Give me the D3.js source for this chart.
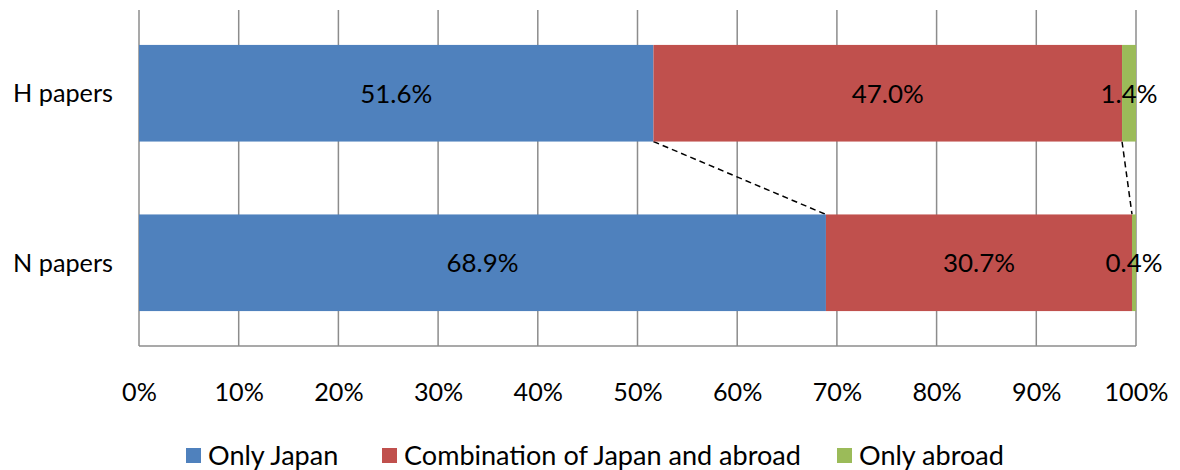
<!DOCTYPE html>
<html><head><meta charset="utf-8">
<script src="https://cdn.jsdelivr.net/npm/d3@7"></script>
<style>body{margin:0;background:#fff}svg text{font-family:Lato,"Open Sans",sans-serif}</style>
</head><body><svg id="c" width="1180" height="470"></svg>
<script>
const categories = ["H papers", "N papers"];
const seriesNames = ["Only Japan", "Combination of Japan and abroad", "Only abroad"];
const onlyJapan = [51.6, 68.9];
const combination = [47.0, 30.7];
const onlyAbroad = [1.4, 0.4];
const tickValues = [0,10,20,30,40,50,60,70,80,90,100];
const colors = ["#4F81BD", "#C0504D", "#9BBB59"];

const svg = d3.select("#c");
const x = d3.scaleLinear().domain([0,100]).range([139,1136]);
const y = d3.scaleBand().domain(categories).range([10,346]).paddingInner(0.43).paddingOuter(0.206);

function fitSize(sample, target){
  const t = svg.append("text").attr("font-size",100).text(sample);
  const w = t.node().getComputedTextLength(); t.remove();
  return 100*target/w;
}
const fsData = fitSize("51.6%", 72);
const fsTick = fitSize("100%", 64);
const fsCat = fitSize("H papers", 100);
const fsLeg = fitSize("Combination of Japan and abroad", 397);

svg.append("g").selectAll("line").data(tickValues).join("line")
  .attr("x1", d=>x(d)).attr("x2", d=>x(d)).attr("y1",10).attr("y2",346)
  .attr("stroke","#8c8c8c").attr("stroke-width",1.5);
svg.append("line").attr("x1",x(0)).attr("x2",x(100)).attr("y1",346).attr("y2",346).attr("stroke","#8c8c8c").attr("stroke-width",1.5);

const series = [onlyJapan, combination, onlyAbroad];
const stacked = categories.map((c,i)=>{
  let acc=0;
  return series.map((s,k)=>{const d={cat:c,k,v:s[i],x0:acc,x1:acc+s[i]};acc+=s[i];return d;});
});

for (let k=0;k<2;k++){
  const a = stacked[0][k].x1, b = stacked[1][k].x1;
  svg.append("line").attr("x1",x(a)).attr("y1",y(categories[0])+y.bandwidth())
    .attr("x2",x(b)).attr("y2",y(categories[1]))
    .attr("stroke","#000").attr("stroke-width",1.5).attr("stroke-dasharray","6,4");
}

stacked.forEach(row=>{
  svg.append("g").selectAll("rect").data(row).join("rect")
    .attr("x",d=>x(d.x0)).attr("width",d=>x(d.x1)-x(d.x0))
    .attr("y",d=>y(d.cat)).attr("height",y.bandwidth())
    .attr("fill",d=>colors[d.k]);
  svg.append("g").selectAll("text").data(row).join("text")
    .attr("x",d=>(x(d.x0)+x(d.x1))/2)
    .attr("text-anchor","middle")
    .attr("y",d=>y(d.cat)+y.bandwidth()/2).attr("dy","0.36em")
    .attr("font-size",fsData).attr("fill","#000")
    .text(d=>d.v.toFixed(1)+"%");
});

const xAxis = d3.axisBottom(x).tickValues(tickValues).tickFormat(d=>d+"%").tickSize(0).tickPadding(0);
const ax = svg.append("g").attr("transform","translate(0,392)").call(xAxis);
ax.select(".domain").remove();
ax.selectAll("text").attr("font-size",fsTick).attr("fill","#000").attr("dy","0.36em").attr("y",0)
  .style("font-family","Lato,'Open Sans',sans-serif");

svg.append("g").selectAll("text").data(categories).join("text")
  .attr("x",13).attr("y",d=>y(d)+y.bandwidth()/2).attr("dy","0.36em")
  .attr("font-size",fsCat).attr("fill","#000").text(d=>d);

const legX = [186, 382, 837];
const lg = svg.append("g").selectAll("g").data(seriesNames).join("g")
  .attr("transform",(d,i)=>`translate(${legX[i]},455)`);
lg.append("rect").attr("x",0).attr("y",-7).attr("width",15).attr("height",15).attr("fill",(d,i)=>colors[i]);
lg.append("text").attr("x",22).attr("y",0).attr("dy","0.36em").attr("font-size",fsLeg).attr("fill","#000").text(d=>d);
</script></body></html>
